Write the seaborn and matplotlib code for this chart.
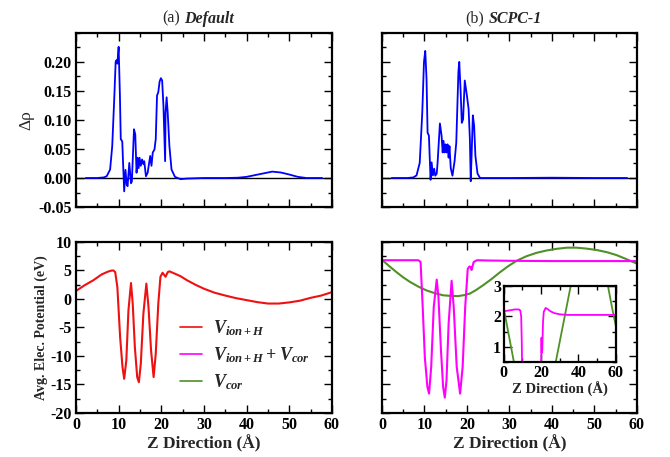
import matplotlib
matplotlib.use("Agg")
import matplotlib.pyplot as plt
from matplotlib.lines import Line2D
from matplotlib.ticker import MultipleLocator, FormatStrFormatter
import seaborn as sns

# Data
# (a) Default : charge density difference
z_def = [2.3, 5.0, 6.5, 7.2, 8.0, 8.5, 9.0, 9.3, 9.5, 9.7, 10.0, 10.3, 10.5, 10.85, 11.1,
         11.3, 11.6, 11.9, 12.1, 12.5, 12.9, 13.1, 13.6, 13.9, 14.2, 14.45, 14.7, 14.9, 15.2, 15.5,
         15.8, 16.0, 16.4, 16.8, 17.4, 17.7, 18.0, 18.4, 18.7, 19.0, 19.3, 19.6, 19.9, 20.2, 20.5,
         20.9, 21.0, 21.25, 21.5, 21.9, 22.4, 23.2, 24.5, 26.0, 30.0, 35.0, 38.0, 40.0, 42.0, 44.0,
         46.0, 48.0, 50.0, 52.0, 54.0, 57.7]
drho_def = [0, 0, 0.001, 0.003, 0.0145, 0.055, 0.142, 0.200, 0.203, 0.197, 0.226, 0.142, 0.067, 0.063, 0.0145,
            -0.023, 0.014, -0.0117, -0.014, 0.026, -0.009, -0.006, 0.084, 0.075, 0.009, 0.035, 0.017, 0.035, 0.021, 0.032,
            0.024, 0.029, 0.003, 0.009, 0.038, 0.021, 0.044, 0.049, 0.067, 0.142, 0.148, 0.166, 0.172, 0.168, 0.125,
            0.029, 0.113, 0.139, 0.113, 0.055, 0.0145, 0.002, -0.002, -0.001, 0, 0, 0.0005, 0.002, 0.005, 0.008,
            0.011, 0.0095, 0.006, 0.002, 0, 0]

# (b) SCPC-1 : charge density difference
z_scpc = [2.3, 6.0, 7.4, 8.15, 8.9, 9.5, 9.9, 10.2, 10.5, 10.75, 11.06, 11.45, 11.7, 12.0, 12.3,
          12.55, 12.9, 13.1, 13.65, 14.04, 14.3, 14.5, 14.75, 14.98, 15.2, 15.45, 15.7, 15.9, 16.2, 16.6,
          17.1, 17.5, 18.0, 18.2, 18.5, 18.8, 19.1, 19.5, 20.0, 20.4, 20.7, 20.9, 21.1, 21.4, 21.7,
          22.0, 22.5, 23.1, 30.0, 40.0, 50.0, 57.7]
drho_scpc = [0, 0, 0.001, 0.0045, 0.026, 0.113, 0.200, 0.219, 0.171, 0.078, 0.073, -0.003, 0.027, 0.0045, 0.016,
             0.004, 0.0075, 0.026, 0.094, 0.073, 0.044, 0.064, 0.044, 0.058, 0.044, 0.058, 0.035, 0.055, 0.017, 0.004,
             0.029, 0.061, 0.183, 0.200, 0.154, 0.095, 0.101, 0.168, 0.142, 0.119, 0.067, -0.0055, 0.038, 0.108, 0.090,
             0.038, 0.0075, 0.0, 0, 0.0005, 0, 0]

# V_ion+H (default)
z_vion = [0, 2, 4.1, 6, 7.5, 8.4, 8.8, 9.2, 9.7, 10.35, 10.9, 11.3, 11.8, 12.3, 12.9,
          13.3, 13.8, 14.35, 14.75, 15.2, 15.8, 16.5, 17.0, 17.6, 18.2, 18.7, 19.3, 19.8, 20.3, 20.7,
          21.0, 21.5, 21.9, 23.0, 24.5, 26, 28, 30, 32.5, 35, 37.5, 40, 42.5, 45, 47.5,
          50, 52.5, 55, 57.5, 60]
v_vion = [1.4, 2.4, 3.3, 4.3, 4.8, 5.0, 5.0, 4.7, 2.1, -6.7, -11.9, -14.0, -10.8, -2.0, 2.8,
          -0.8, -8.4, -13.7, -14.6, -11.3, -2.6, 2.7, -1.4, -9.0, -13.7, -9.6, -0.8, 3.9, 4.6, 4.2,
          3.9, 4.7, 4.85, 4.5, 4.0, 3.3, 2.5, 1.8, 1.1, 0.6, 0.15, -0.2, -0.55, -0.8, -0.8,
          -0.6, -0.3, 0.2, 0.6, 1.2]

# V_ion+H + V_cor (SCPC-1)
z_vtot = [0, 4, 8.55, 9.1, 9.6, 10.1, 10.7, 11.1, 11.6, 12.2, 12.9, 13.3, 13.9, 14.4, 14.8,
          15.2, 15.7, 16.4, 16.9, 17.6, 18.4, 19.0, 19.6, 20.2, 20.6, 20.9, 21.1, 21.6, 22.4, 25,
          30, 40, 50, 60]
v_vtot = [6.8, 6.8, 6.8, 6.5, -1.4, -10.2, -15.4, -16.6, -11.9, -1.4, 3.4, 0.4, -9.0, -15.4, -17.3,
          -14.3, -4.3, 3.2, -1.4, -11.9, -16.6, -11.9, -1.4, 5.3, 5.7, 5.6, 5.1, 6.5, 6.8, 6.75,
          6.7, 6.65, 6.65, 6.65]

# V_cor (SCPC-1)
z_vcor = [0, 1.5, 3.45, 5, 6.6, 8.5, 10.5, 12.5, 14.4, 16, 17.9, 19.5, 20.7, 22, 23.8,
          25.8, 27.8, 29.8, 31.7, 34, 36.4, 38.7, 41.1, 43.5, 45.8, 48, 50.5, 53, 55.2, 57.5, 60]
v_vcor = [6.9, 5.9, 4.7, 3.8, 3.0, 2.2, 1.5, 1.0, 0.65, 0.55, 0.5, 0.7, 0.95, 1.5, 2.4,
          3.5, 4.7, 5.8, 6.7, 7.5, 8.1, 8.5, 8.8, 9.0, 9.0, 8.85, 8.6, 8.2, 7.7, 7.0, 6.2]

# inset (zoomed potential)
z_in_tot = [0, 2, 4, 6, 8, 8.8, 9.3, 9.6, 9.8, 10.5, 19.5, 20.0, 20.2, 20.35, 20.6,
            21.0, 21.4, 22.4, 23.5, 25, 27, 30, 34, 40, 50, 60]
v_in_tot = [2.17, 2.19, 2.21, 2.23, 2.23, 2.2, 2.0, 1.2, 0.3, -3, -3, 0.3, 1.3, 0.8, 0.9,
            1.8, 2.15, 2.28, 2.24, 2.17, 2.11, 2.07, 2.05, 2.05, 2.05, 2.05]
z_in_cor = [0, 2, 4, 6, 10, 20, 26, 28, 32, 36, 40, 48, 54, 56, 58, 60]
v_in_cor = [2.25, 1.6, 0.95, 0.3, -0.5, -0.8, 0.0, 0.55, 1.8, 3.05, 4.0, 4.3, 3.6, 2.95, 2.3, 1.7]

legend_labels = [r'$V_{ion+H}$', r'$V_{ion+H} + V_{cor}$', r'$V_{cor}$']

c_blue = '#0000ff'
c_red = '#ee1111'
c_mag = '#ff00ff'
c_green = '#4f9126'

sns.set_theme(style="ticks")
plt.rcParams['font.family'] = ['Liberation Serif', 'DejaVu Serif']
plt.rcParams['font.weight'] = 'bold'
plt.rcParams['axes.unicode_minus'] = False
plt.rcParams['mathtext.fontset'] = 'custom'
plt.rcParams['mathtext.it'] = 'Liberation Serif:italic:bold'
plt.rcParams['mathtext.rm'] = 'Liberation Serif:bold'
plt.rcParams['mathtext.bf'] = 'Liberation Serif:bold'


def style_axes(ax, xlabels=True, ylabels=True, tick_fs=11.5):
    for s in ax.spines.values():
        s.set_linewidth(1.6)
        s.set_color('black')
    ax.tick_params(which='both', direction='in', top=True, right=True,
                   labelbottom=xlabels, labelleft=ylabels, colors='black',
                   labelsize=tick_fs, width=1.0, pad=3)
    ax.tick_params(which='major', length=5.5)
    ax.tick_params(which='minor', length=3)
    for lbl in ax.get_xticklabels() + ax.get_yticklabels():
        lbl.set_fontweight('bold')


def add_title(ax, tag, name, x0):
    t1 = ax.text(x0, 1.035, tag, transform=ax.transAxes, ha='left', va='bottom',
                 fontsize=11.5, fontweight='normal')
    ax.annotate(name, xy=(1, 0), xycoords=t1, xytext=(3.5, 0), textcoords='offset points',
                ha='left', va='bottom', fontsize=11.5, fontweight='bold', fontstyle='italic')


fig = plt.figure(figsize=(6.7, 4.57), dpi=100)
ax_a = fig.add_axes([0.1134, 0.547, 0.382, 0.381])
ax_b = fig.add_axes([0.570, 0.547, 0.3806, 0.381])
ax_c = fig.add_axes([0.1134, 0.0963, 0.382, 0.3742])
ax_d = fig.add_axes([0.570, 0.0963, 0.3806, 0.3742])

# top panels: charge density difference
for ax, z, d in [(ax_a, z_def, drho_def), (ax_b, z_scpc, drho_scpc)]:
    ax.axhline(0, color='black', lw=1.0, zorder=1)
    sns.lineplot(x=z, y=d, ax=ax, color=c_blue, lw=1.3, estimator=None, sort=False, zorder=2)
    ax.set_xlim(0, 60)
    ax.set_ylim(-0.05, 0.25)
    ax.set_yticks([-0.05, 0.0, 0.05, 0.10, 0.15, 0.20])
    ax.yaxis.set_major_formatter(FormatStrFormatter('%.2f'))
    ax.xaxis.set_major_locator(MultipleLocator(10))
    ax.xaxis.set_minor_locator(MultipleLocator(5))
    ax.yaxis.set_minor_locator(MultipleLocator(0.025))
    ax.set_xlabel('')
    ax.set_ylabel('')

style_axes(ax_a, xlabels=False, ylabels=True)
style_axes(ax_b, xlabels=False, ylabels=False)
ax_a.set_ylabel('Δρ', fontsize=12.5, fontweight='normal', labelpad=3)
add_title(ax_a, '(a)', 'Default', 0.336)
add_title(ax_b, '(b)', 'SCPC-1', 0.325)

# bottom panels: potentials
sns.lineplot(x=z_vion, y=v_vion, ax=ax_c, color=c_red, lw=1.5, estimator=None, sort=False)
sns.lineplot(x=z_vcor, y=v_vcor, ax=ax_d, color=c_green, lw=1.5, estimator=None, sort=False)
sns.lineplot(x=z_vtot, y=v_vtot, ax=ax_d, color=c_mag, lw=1.5, estimator=None, sort=False)

for ax in (ax_c, ax_d):
    ax.set_xlim(0, 60)
    ax.set_ylim(-20, 10)
    ax.set_xticks(range(0, 61, 10))
    ax.set_yticks(range(-20, 11, 5))
    ax.xaxis.set_minor_locator(MultipleLocator(5))
    ax.yaxis.set_minor_locator(MultipleLocator(2.5))
    ax.set_xlabel('Z Direction (Å)', fontsize=12.5, fontweight='bold', labelpad=1)
    ax.set_ylabel('')

style_axes(ax_c, xlabels=True, ylabels=True)
style_axes(ax_d, xlabels=True, ylabels=False)
ax_c.set_ylabel('Avg. Elec. Potential (eV)', fontsize=10, fontweight='bold', labelpad=2)

handles = [Line2D([], [], color=c, lw=1.2) for c in (c_red, c_mag, c_green)]
ax_c.legend(handles, legend_labels, loc='upper left', bbox_to_anchor=(0.38, 0.595),
            frameon=False, fontsize=13, handlelength=1.2, handletextpad=0.6,
            labelspacing=0.4, borderaxespad=0)

# inset
ax_in = fig.add_axes([0.752, 0.208, 0.167, 0.166])
sns.lineplot(x=z_in_cor, y=v_in_cor, ax=ax_in, color=c_green, lw=1.3, estimator=None, sort=False)
sns.lineplot(x=z_in_tot, y=v_in_tot, ax=ax_in, color=c_mag, lw=1.3, estimator=None, sort=False)
ax_in.set_xlim(0, 60)
ax_in.set_ylim(0.5, 3)
ax_in.set_xticks([0, 20, 40, 60])
ax_in.set_yticks([1, 2, 3])
ax_in.xaxis.set_minor_locator(MultipleLocator(10))
ax_in.yaxis.set_minor_locator(MultipleLocator(0.5))
style_axes(ax_in, xlabels=True, ylabels=True, tick_fs=11.5)
ax_in.tick_params(which='both', pad=2)
ax_in.set_xlabel('Z Direction (Å)', fontsize=10.5, fontweight='bold', labelpad=1)
ax_in.set_ylabel('')

fig.savefig('out.png', dpi=100)
